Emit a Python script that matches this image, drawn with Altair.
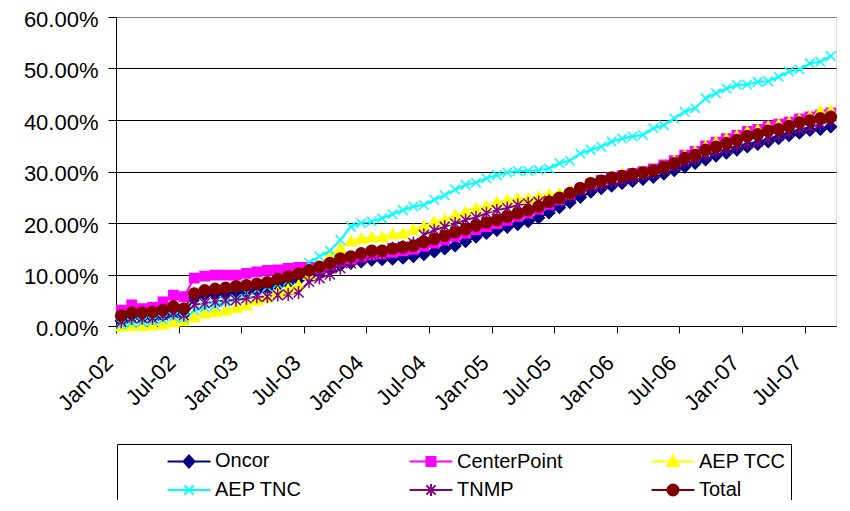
import json
import altair as alt
import pandas as pd

series_names = ["Oncor", "CenterPoint", "AEP TCC", "AEP TNC", "TNMP", "Total"]
series_colors = ["#000080", "#FF00FF", "#FFFF00", "#00FFFF", "#800080", "#800000"]
tick_labels = ["Jan-02", "Jul-02", "Jan-03", "Jul-03", "Jan-04", "Jul-04",
               "Jan-05", "Jul-05", "Jan-06", "Jul-06", "Jan-07", "Jul-07"]

# monthly values in percent, Jan-02 .. Sep-07
oncor = [1.0, 1.5, 1.6, 1.7, 2.0, 2.6, 2.2, 5.5, 6.0, 6.2, 6.3, 6.5, 6.8, 7.0, 7.3, 7.8,
         8.3, 9.0, 9.6, 10.3, 11.0, 11.8, 12.2, 12.5, 12.8, 12.9, 13.0, 13.2, 13.5, 13.9,
         14.4, 15.0, 15.6, 16.4, 17.3, 18.0, 18.6, 19.2, 19.7, 20.3, 21.0, 22.0, 23.0,
         24.0, 25.0, 26.0, 26.7, 27.2, 27.7, 28.1, 28.5, 28.9, 29.5, 30.2, 30.9, 31.6,
         32.3, 33.0, 33.6, 34.2, 34.8, 35.3, 35.8, 36.4, 37.0, 37.5, 38.0, 38.2, 38.7]
centerpoint = [3.1, 4.1, 3.4, 3.6, 4.7, 6.0, 5.7, 9.3, 9.7, 9.9, 9.9, 9.9, 10.2, 10.5,
               10.8, 10.9, 11.2, 11.4, 11.4, 11.2, 11.8, 12.6, 13.0, 13.4, 13.8, 14.0,
               14.3, 14.6, 14.9, 15.5, 16.1, 16.7, 17.4, 18.0, 18.7, 19.3, 19.9, 20.5,
               21.3, 21.9, 22.7, 23.6, 24.5, 25.5, 26.6, 27.6, 28.3, 28.8, 29.2, 29.6,
               30.0, 30.5, 31.3, 32.1, 33.2, 33.9, 35.0, 35.7, 36.4, 37.0, 37.8, 38.2,
               38.8, 39.2, 39.6, 40.2, 40.6, 41.0, 41.4]
aep_tcc = [0.0, 0.1, 0.1, 0.2, 0.4, 0.8, 1.0, 1.8, 2.5, 2.8, 3.1, 3.6, 4.1, 5.0, 5.6, 6.6,
           7.2, 8.0, 10.0, 11.8, 13.8, 15.1, 16.5, 17.0, 17.3, 17.3, 17.9, 18.0, 18.8,
           19.4, 20.3, 20.7, 21.6, 22.2, 22.9, 23.3, 24.1, 24.5, 24.8, 24.8, 25.2, 25.6,
           25.8, 26.4, 27.0, 28.0, 28.5, 29.0, 29.7, 29.8, 30.1, 30.4, 31.2, 32.2, 33.2,
           34.0, 35.0, 35.8, 36.5, 37.0, 37.8, 38.2, 38.8, 39.2, 39.6, 40.2, 40.8, 41.8,
           41.9]
aep_tnc = [0.3, 0.6, 0.8, 1.0, 1.3, 1.8, 1.5, 3.0, 3.6, 4.0, 4.6, 5.2, 6.4, 7.0, 7.6, 8.2,
           8.8, 10.2, 12.3, 13.5, 14.6, 16.7, 19.3, 20.0, 20.3, 20.9, 21.7, 22.5, 23.2,
           23.5, 24.5, 25.4, 26.5, 27.4, 27.8, 28.7, 29.3, 29.8, 30.1, 30.1, 30.3, 30.6,
           31.6, 32.1, 33.5, 34.2, 34.8, 35.8, 36.4, 36.8, 37.1, 38.4, 39.0, 40.3, 41.6,
           42.3, 44.2, 45.2, 46.1, 46.8, 46.9, 47.4, 47.5, 48.4, 49.4, 49.8, 51.0, 51.3,
           52.4]
tnmp = [0.8, 1.5, 1.5, 1.5, 2.1, 2.5, 2.1, 4.1, 4.4, 4.7, 5.0, 5.0, 5.4, 5.7, 5.7, 6.0,
        6.1, 6.5, 8.6, 9.3, 10.0, 11.2, 12.2, 13.0, 13.8, 14.1, 15.1, 15.4, 16.1, 17.7,
        18.6, 19.3, 19.9, 20.6, 21.1, 21.9, 22.5, 22.9, 23.5, 23.8, 24.1, 24.3, 24.6,
        25.2, 26.4, 27.1, 27.4, 28.0, 28.3, 28.7, 29.3, 29.8, 30.4, 31.0, 31.8, 32.4,
        33.2, 33.8, 34.4, 35.0, 35.4, 35.8, 36.4, 37.0, 37.6, 38.2, 38.6, 39.2, 39.8]
total = [2.0, 2.6, 2.6, 2.7, 3.1, 3.8, 3.4, 6.3, 6.9, 7.2, 7.4, 7.7, 7.9, 8.2, 8.5, 9.1,
         9.6, 10.2, 10.8, 11.5, 12.2, 13.1, 13.5, 14.1, 14.6, 14.6, 15.0, 15.3, 15.6,
         16.3, 16.9, 17.5, 18.2, 18.8, 19.5, 20.1, 20.6, 21.2, 21.9, 22.5, 23.2, 24.1,
         24.9, 25.8, 26.8, 27.7, 28.2, 28.8, 29.1, 29.5, 29.8, 30.2, 30.9, 31.6, 32.6,
         33.2, 34.2, 34.8, 35.5, 36.1, 36.9, 37.2, 37.9, 38.2, 38.8, 39.5, 39.9, 40.3,
         40.6]

all_series = [oncor, centerpoint, aep_tcc, aep_tnc, tnmp, total]
rows = []
for name, vals in zip(series_names, all_series):
    for i, v in enumerate(vals):
        rows.append({"m": i, "series": name, "value": v / 100.0})
df = pd.DataFrame(rows)
n_months = len(total)

plot_shapes = ["diamond", "square", "triangle-up",
               "M-1,-1L1,1M-1,1L1,-1",
               "M-1,-1L1,1M-1,1L1,-1M0,-1.3L0,1.3",
               "circle"]
plot_sizes = [130, 85, 120, 90, 100, 125]

seg = "M-1.95,0H1.95"
legend_paths = [
    seg + "M0,-0.55L0.5,0L0,0.55L-0.5,0Z",
    seg + "M-0.41,-0.41H0.41V0.41H-0.41Z",
    seg + "M0,-0.52L0.52,0.4L-0.52,0.4Z",
    seg + "M-0.42,-0.42L0.42,0.42M-0.42,0.42L0.42,-0.42",
    seg + "M-0.42,-0.42L0.42,0.42M-0.42,0.42L0.42,-0.42M0,-0.55V0.55",
    seg + "M-0.5,0A0.5,0.5 0 1,0 0.5,0A0.5,0.5 0 1,0 -0.5,0Z",
]

tick_values = [-0.5 + 6 * k for k in range(len(tick_labels))]
label_expr = f"{json.dumps(tick_labels)}[round((datum.value + 0.5) / 6)]"

FONT = "Liberation Sans"

x = alt.X("m:Q", title=None,
          scale=alt.Scale(domain=[-0.5, n_months - 0.5], nice=False, zero=False),
          axis=alt.Axis(values=tick_values, labelExpr=label_expr, labelAngle=-45,
                        labelAlign="right", labelBaseline="middle", labelFontSize=22,
                        labelFont=FONT, labelColor="black", labelPadding=26,
                        labelOffset=-7,
                        labelFlush=False, labelOverlap=False, labelBound=False,
                        tickSize=7, tickColor="black", domainColor="black",
                        grid=False))
y = alt.Y("value:Q", title=None,
          scale=alt.Scale(domain=[0, 0.6], nice=False),
          axis=alt.Axis(values=[0, 0.1, 0.2, 0.3, 0.4, 0.5, 0.6], format=".2%",
                        labelFontSize=22, labelFont=FONT, labelColor="black",
                        labelPadding=10, labelOffset=2, tickSize=8, tickColor="black",
                        domainColor="black", labelFlush=False,
                        gridColor=alt.condition("datum.value >= 0.6",
                                                alt.value("#808080"),
                                                alt.value("black")),
                        gridWidth=1))

layers = []
for name, col in zip(series_names, series_colors):
    layers.append(
        alt.Chart(df).transform_filter(alt.datum.series == name)
        .mark_line(strokeWidth=2, color=col)
        .encode(x=x, y=y)
    )
for name, col, shp, sz in zip(series_names, series_colors, plot_shapes, plot_sizes):
    layers.append(
        alt.Chart(df).transform_filter(alt.datum.series == name)
        .mark_point(filled=True, opacity=1, shape=shp, size=sz, fill=col,
                    stroke=col, strokeWidth=1.5)
        .encode(x=x, y=y)
    )

legend = alt.Legend(
    title=None, orient="none", legendX=1, legendY=427, direction="horizontal",
    columns=3, gridAlign="all", columnPadding=43, rowPadding=6, padding=5,
    strokeColor="black", labelFontSize=20, labelFont=FONT, labelColor="black",
    symbolSize=484, symbolOffset=55, labelOffset=14, symbolStrokeWidth=2,
    symbolOpacity=1,
)

legend_layer = alt.Chart(df).transform_filter("false").mark_point(
    filled=True, opacity=1, strokeWidth=2, size=484).encode(
    x=x, y=y,
    color=alt.Color("series:N", scale=alt.Scale(domain=series_names, range=series_colors), legend=legend),
    stroke=alt.Stroke("series:N", scale=alt.Scale(domain=series_names, range=series_colors), legend=legend),
    shape=alt.Shape("series:N", scale=alt.Scale(domain=series_names, range=legend_paths), legend=legend),
)
layers.append(legend_layer)

chart = alt.layer(*layers).properties(
    width=720, height=309,
    autosize=alt.AutoSizeParams(type="none"),
    padding={"left": 108, "top": 9, "right": 6, "bottom": 174},
).configure_view(stroke="#808080", strokeWidth=1.5).configure(background="white")

chart.save("out.html", embed_options={"renderer": "svg", "actions": False})
